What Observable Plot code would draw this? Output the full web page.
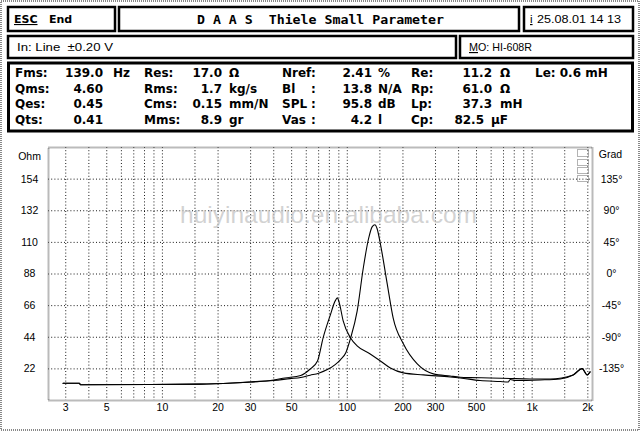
<!DOCTYPE html>
<html><head><meta charset="utf-8">
<script src="https://cdn.jsdelivr.net/npm/d3@7"></script>
<script src="https://cdn.jsdelivr.net/npm/@observablehq/plot@0.6"></script>
<style>
body{margin:0;background:#fff;}
#wrap{position:relative;width:640px;height:431px;overflow:hidden;background:#fff;}
#chart{position:absolute;left:0;top:131px;}
#hdr{position:absolute;left:0;top:0;pointer-events:none;}
</style></head><body>
<div id="wrap"><div id="chart"></div><svg id="hdr" width="640" height="431"></svg></div>
<script>
// ---- data ----
const freqA = [2.9, 3.56, 3.6, 8.6, 16, 24, 30, 40, 49, 56, 63, 70, 78, 86, 92, 98, 104, 113, 122, 130, 136.5, 141, 145, 151, 164.5, 177, 201, 239, 292, 360, 408, 462, 593, 760, 975, 1250, 1666, 1864, 1983, 2058];
const ohmA  = [12.0, 12.0, 11.0, 11.15, 11.4, 12.2, 12.9, 13.9, 15.2, 16.0, 17.6, 19.0, 21.5, 25.0, 28.5, 33.0, 43.0, 62.0, 92.0, 112.0, 121.0, 122.3, 119.5, 109.0, 81.0, 57.5, 39.4, 25.4, 18.5, 17.0, 16.2, 15.9, 15.7, 15.3, 15.0, 15.0, 17.8, 22.2, 17.8, 19.9];
const freqB = [2.9, 3.56, 3.6, 8.6, 16, 24, 30, 40, 46, 56, 63, 69, 74, 81, 86, 88.3, 90.5, 95, 104, 113, 133, 151, 171, 201, 258, 360, 408, 523, 671, 742, 760, 809, 1105, 1417, 1666, 1864, 1983, 2058];
const ohmB  = [12.0, 12.0, 11.0, 11.15, 11.4, 12.2, 12.9, 14.3, 15.7, 17.4, 21.9, 27.5, 43.6, 59.6, 69.3, 71.4, 67.9, 55.4, 43.6, 38.0, 32.4, 27.5, 22.6, 19.2, 17.8, 16.4, 15.7, 13.9, 13.2, 12.9, 14.6, 13.9, 14.3, 15.0, 17.8, 22.2, 17.8, 19.9];

const xTickVals   = [3, 5, 10, 20, 30, 50, 100, 200, 300, 500, 1000, 2000];
const xTickLabels = ["3", "5", "10", "20", "30", "50", "100", "200", "300", "500", "1k", "2k"];
const xGridVals   = [3,4,5,6,7,8,9,10,15,20,30,40,50,60,70,80,90,100,150,200,300,400,500,600,700,800,900,1000,1500,2000];
const ohmTicks    = [22, 44, 66, 88, 110, 132, 154];
const phaseLabels = ["-135°", "-90°", "-45°", "0°", "45°", "90°", "135°"];

// parameter table
const pLab1 = ["Fms:", "Qms:", "Qes:", "Qts:"];
const pVal1 = ["139.0", "4.60", "0.45", "0.41"];
const pUnit1 = ["Hz", "", "", ""];
const pLab2 = ["Res:", "Rms:", "Cms:", "Mms:"];
const pVal2 = ["17.0", "1.7", "0.15", "8.9"];
const pUnit2 = ["Ω", "kg/s", "mm/N", "gr"];
const pLab3 = ["Nref", "Bl", "SPL", "Vas"];
const pVal3 = ["2.41", "13.8", "95.8", "4.2"];
const pUnit3 = ["%", "N/A", "dB", "l"];
const pLab4 = ["Re:", "Rp:", "Lp:", "Cp:"];
const pVal4 = ["11.2", "61.0", "37.3", "82.5"];
const pUnit4 = ["Ω", "Ω", "mH", "µF"];
const leText = "Le: 0.6 mH";

const curveA = freqA.map((f, i) => ({f, v: ohmA[i]}));
const curveB = freqB.map((f, i) => ({f, v: ohmB[i]}));

const sans = "'Liberation Sans', Arial, sans-serif";
const chart = Plot.plot({
  width: 640, height: 300,
  marginLeft: 48, marginRight: 48, marginTop: 16, marginBottom: 31,
  x: {type: "log", domain: [2.42, 2120], axis: null},
  y: {domain: [0, 176], axis: null},
  style: {background: "transparent", fontFamily: sans, fontSize: "10.5px", color: "#000"},
  marks: [
    Plot.gridX(xGridVals, {stroke: "#000", strokeOpacity: 0.9, strokeDasharray: "1,2.2"}),
    Plot.gridY(ohmTicks, {stroke: "#000", strokeOpacity: 0.9, strokeDasharray: "1,2.2"}),
    Plot.frame({stroke: "#777", strokeWidth: 2, strokeDasharray: "1,1"}),
    Plot.line(curveA, {x: "f", y: "v", stroke: "#000", strokeWidth: 1.1, curve: "monotone-x"}),
    Plot.line(curveB, {x: "f", y: "v", stroke: "#000", strokeWidth: 1.1, curve: "monotone-x"}),
    Plot.text(xTickVals, {x: d => d, text: (d, i) => xTickLabels[i], frameAnchor: "bottom", dy: 10}),
    Plot.text(ohmTicks, {y: d => d, text: d => String(d), frameAnchor: "left", dx: -19, textAnchor: "middle"}),
    Plot.text(ohmTicks, {y: d => d, text: (d, i) => phaseLabels[i], frameAnchor: "right", dx: 19, textAnchor: "middle"}),
    Plot.text(["Ohm"], {text: d => d, frameAnchor: "top-left", dx: -19, dy: 5, textAnchor: "middle"}),
    Plot.text(["Grad"], {text: d => d, frameAnchor: "top-right", dx: 18, dy: 3, textAnchor: "middle"})
  ]
});
document.getElementById("chart").appendChild(chart);

// ---- header / parameter boxes ----
const svg = d3.select("#hdr");
function box(x, y, w, h, sw, dash) {
  const r = svg.append("rect").attr("x", x).attr("y", y).attr("width", w).attr("height", h)
    .attr("fill", "none").attr("stroke", dash ? "#666" : "#000").attr("stroke-width", sw);
  if (dash) r.attr("stroke-dasharray", dash);
}
function txt(x, y, s, opt = {}) {
  const t = svg.append("text").attr("x", x).attr("y", y).text(s)
    .attr("font-family", opt.family || sans).attr("font-size", opt.size || 11)
    .attr("font-weight", opt.weight || "normal").attr("fill", opt.fill || "#000")
    .attr("text-anchor", opt.anchor || "start").style("white-space", "pre");
  if (opt.len) t.attr("textLength", opt.len).attr("lengthAdjust", "spacingAndGlyphs");
  if (opt.under) t.attr("text-decoration", "underline");
  if (opt.opacity) t.attr("fill-opacity", opt.opacity);
  return t;
}
// watermark
txt(180, 223, "huiyinaudio.en.alibaba.com", {size: 24.5, fill: "#c4c4c4", opacity: 0.75});

box(8, 7, 107, 24, 2.5);
box(119, 7, 400, 24, 2.5);
box(524, 7, 109, 24, 2.5);
box(8, 36, 448, 22, 2.5);
box(460, 36, 173, 22, 2.5);
box(8.5, 63, 624, 68, 3);

// small glyph in the plot corner
box(577.5, 149.5, 11, 7, 1, "1,1");
box(577.5, 159.5, 11, 6, 1, "1,1");
box(577.5, 167.5, 11, 6, 1, "1,1");
box(577.5, 175.5, 11, 6, 1, "1,1");

const bold = {family: "'DejaVu Sans', sans-serif", weight: "bold", size: 11};
txt(14, 23, "ESC", {...bold, under: true});
txt(49, 23, "End", bold);
txt(197, 24, "D A A S  Thiele Small Parameter", {family: "'DejaVu Sans Mono', monospace", weight: "bold", size: 12, len: 247});
txt(530, 23, "i", {size: 11.5, under: true});
txt(537, 23, "25.08.01 14 13", {size: 11.5, len: 84});
txt(17, 51, "In: Line  ±0.20 V", {size: 11.5, len: 96});
txt(469, 51, "M", {size: 11.5, under: true, len: 9});
txt(478, 51, "O: HI-608R", {size: 11.5, len: 54});

const pf = {family: "'DejaVu Sans', sans-serif", weight: "bold", size: 12};
const rowsY = [76.5, 92.5, 107.5, 123.5];
rowsY.forEach((y, i) => {
  txt(15, y, pLab1[i], pf);
  txt(103, y, pVal1[i], {...pf, anchor: "end"});
  txt(113, y, pUnit1[i], pf);
  txt(144, y, pLab2[i], pf);
  txt(222, y, pVal2[i], {...pf, anchor: "end"});
  txt(229, y, pUnit2[i], pf);
  txt(282, y, pLab3[i], pf);
  txt(311, y, ":", pf);
  txt(372, y, pVal3[i], {...pf, anchor: "end"});
  txt(378, y, pUnit3[i], pf);
  txt(411, y, pLab4[i], pf);
  if (i === 3) {
    txt(484, y, pVal4[i], {...pf, anchor: "end"});
    txt(491, y, pUnit4[i], pf);
  } else {
    txt(492, y, pVal4[i], {...pf, anchor: "end"});
    txt(500, y, pUnit4[i], pf);
  }
});
txt(535, rowsY[0], leText, pf);

// outer stippled border
svg.append("rect").attr("x", 1).attr("y", 1).attr("width", 638).attr("height", 429)
  .attr("fill", "none").attr("stroke", "#888").attr("stroke-width", 2).attr("stroke-dasharray", "1,1");
</script>
</body></html>
